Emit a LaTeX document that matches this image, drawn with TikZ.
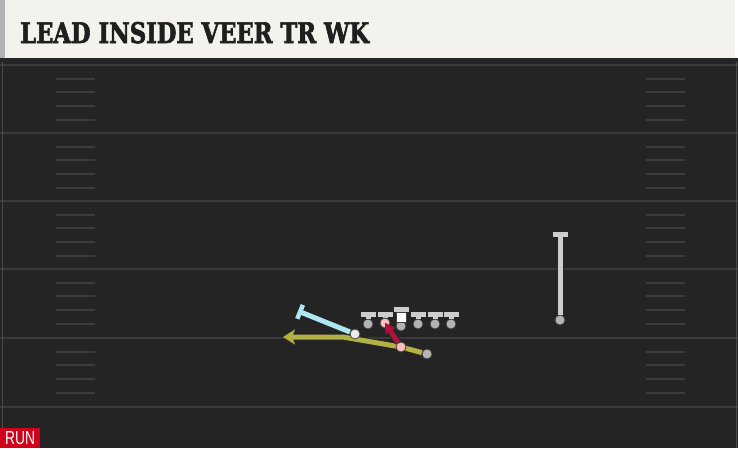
\documentclass[tikz,border=0pt]{standalone}
\usepackage{fontspec}
\setmainfont{DejaVu Serif}
\newfontfamily\titlefont[FakeBold=2.5]{DejaVu Serif Bold}
\newfontfamily\runfont{Liberation Sans}
\usetikzlibrary{arrows.meta,positioning,calc}

\definecolor{paper}{HTML}{F4F2EC}
\definecolor{turf}{HTML}{242424}
\definecolor{yardgray}{HTML}{3A3A3A}
\definecolor{hashgray}{HTML}{3C3C3C}
\definecolor{skin}{HTML}{CDCDCD}
\definecolor{leadred}{HTML}{B0123C}
\definecolor{veergold}{HTML}{B3B044}
\definecolor{sweepblue}{HTML}{AEE6F2}
\definecolor{tagred}{HTML}{D0021B}

\begin{document}
\begin{tikzpicture}[
        x=1pt, y=-1pt,
        >=Stealth,
        yard/.style={draw=yardgray, line width=1.8pt},
        hash/.style={draw=hashgray, line width=1.5pt},
        player/.style={circle, fill=skin!88!black, draw=black!75, line width=0.8pt, inner sep=0pt, minimum size=10pt},
        route/.style={line width=5pt, preaction={draw=black!85, line width=7pt}},
        block/.style={route, -{Bar[width=15pt, line width=4.5pt]}},
        run/.style={route, -{Stealth[length=12pt, width=15pt, inset=3pt]}}
      ]
      \useasboundingbox (0,0) rectangle (738,448);

      % --- Field ---
      \fill[turf] (0,58) rectangle (738,448);
      \fill[black!85] (0,58) rectangle (738,62);
      \foreach \y in {65,133,201,269,338,407}
        \draw[yard] (0,\y) -- (738,\y);
      \foreach \y in {65,133,201,269,338} {
        \foreach \dy in {14,27,41,55} {
          \draw[hash] (56,\y+\dy) -- (95,\y+\dy);
          \draw[hash] (646,\y+\dy) -- (685,\y+\dy);
        }
      }
      \draw[black!70, line width=0.8pt] (2,62) -- (2,448);
      \draw[black!70, line width=0.8pt] (736,62) -- (736,448);

      % --- Title bar ---
      \fill[paper] (0,0) rectangle (735,58);
      \fill[gray!60] (0,0) rectangle (5,58);
      \node[anchor=base west, inner sep=0pt, text=black!88] (title) at (20,43)
        {\resizebox{349pt}{21pt}{\titlefont LEAD INSIDE VEER TR WK}};

      % --- Offense ---
      \node[player] (lt) at (368,324) {};
      \node[player, fill=red!25] (lg) at (385,323) {};
      \node[player] (ctr) at (401,326) {};
      \node[player] (rg) at (418,324) {};
      \node[player] (rt) at (435,324) {};
      \node[player] (te) at (451,324) {};
      \node[player] (wr) at (560,320) {};
      \node[player] (qb) at (427,354) {};
      \node[player, fill=red!25] (fb) at (401,347) {};
      \node[player, fill=white!85!gray] (hb) at (355,334) {};

      \coordinate (lt-end) at (368,312);
      \coordinate (lg-end) at (385,312);
      \coordinate (ctr-end) at (401,307);
      \coordinate (rg-end) at (418,312);
      \coordinate (rt-end) at (435,312);
      \coordinate (te-end) at (451,312);
      \coordinate (wr-end) at (560,232);
      \coordinate (hb-end) at (298,311);
      \coordinate (bend) at (343,337);
      \coordinate (pitch-end) at (283,337);

      % --- Blocks ---
      \foreach \p in {lt,lg,ctr,rg,rt,te,wr}
        \draw[block, skin] (\p) -- (\p-end);
      \node[player, fill=red!25] at (lg) {};
      \node[fill=white, draw=black!75, line width=0.6pt, minimum size=10pt, inner sep=0pt] (ctr-mark) at (401,317) {};

      % --- Routes ---
      \draw[run, veergold] (qb) -- (fb.center) -- (bend) -- (pitch-end);
      \draw[block, sweepblue] (hb) -- (hb-end);
      \node[player, fill=white!85!gray] at (hb) {};
      \draw[route, leadred, -{Stealth[length=10pt, width=12pt, inset=2pt]}] (fb) -- (lg.center);
      \node[player, fill=red!25] at (fb) {};

      % --- Tag ---
      \node[fill=tagred, anchor=south west, minimum width=40pt, minimum height=20pt, inner sep=0pt, text=white] (tag) at (0,448)
        {\resizebox{30pt}{13pt}{\runfont RUN}};

    \end{tikzpicture}
\end{document}
